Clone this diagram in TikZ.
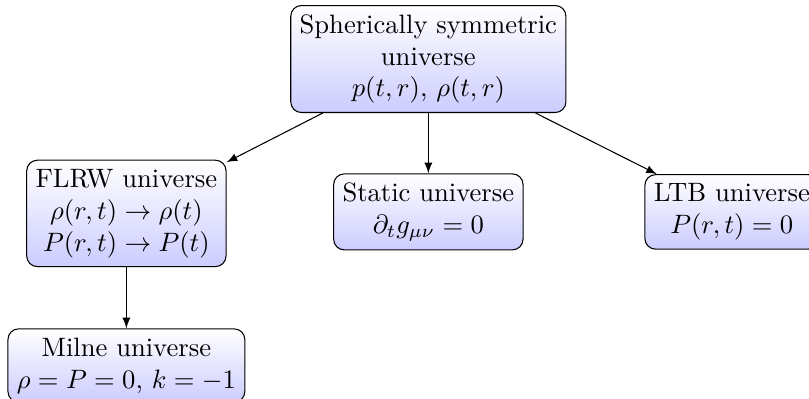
\documentclass[tikz,border=0pt]{standalone}
\usetikzlibrary{arrows.meta,positioning}

\begin{document}
\begin{tikzpicture}[
      box/.style={draw,rounded corners,align=center,top color=white,bottom color=blue!20},
      arr/.style={-latex}
    ]
      \useasboundingbox (0,0) rectangle (10.69,5.26);
      % parent
      \node[box] (sph) at (5.66,4.48) {Spherically symmetric\\universe\\$p(t,r)$, $\rho(t,r)$};
      % children
      \node[box] (flrw) at (1.67,2.44) {FLRW universe\\$\rho(r,t)\to\rho(t)$\\$P(r,t)\to P(t)$};
      \node[box] (static) at (5.66,2.46) {Static universe\\$\partial_t g_{\mu\nu}=0$};
      \node[box] (ltb) at (9.67,2.46) {LTB universe\\$P(r,t)=0$};
      \node[box] (milne) at (1.67,0.43) {Milne universe\\$\rho=P=0$, $k=-1$};
      \draw[arr] (sph) -- (flrw);
      \draw[arr] (sph) -- (static);
      \draw[arr] (sph) -- (ltb);
      \draw[arr] (flrw) -- (milne);
    \end{tikzpicture}
\end{document}
